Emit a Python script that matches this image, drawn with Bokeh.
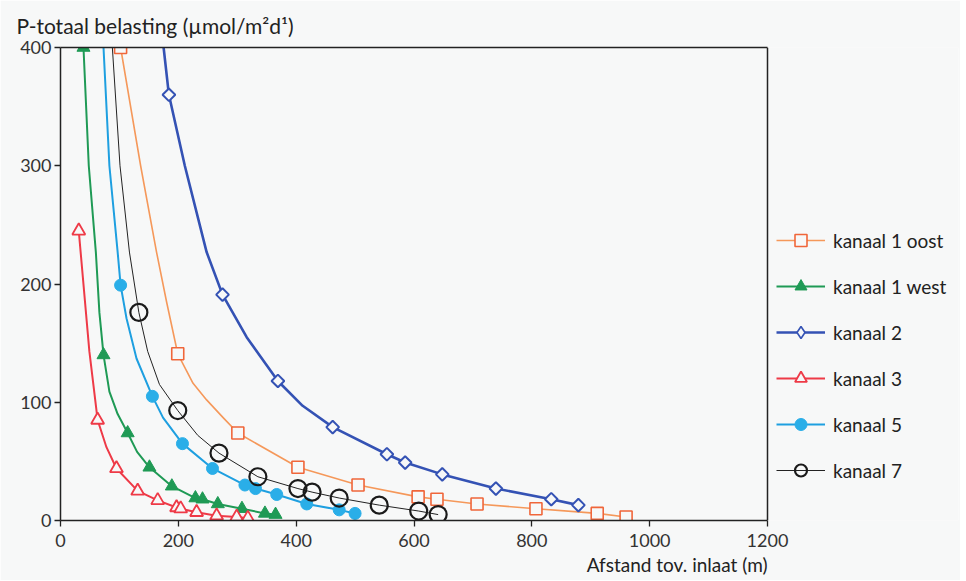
import math
from bokeh.plotting import figure
from bokeh.models import (Range1d, FixedTicker, Legend, LegendItem, LinearAxis, Span, Title)
from bokeh.embed import file_html
from bokeh.resources import INLINE

# ---------------- data ----------------
x_ticks = [0, 200, 400, 600, 800, 1000, 1200]
y_ticks = [0, 100, 200, 300, 400]
x_max = 1200
y_max = 400

series_names = ["kanaal 1 oost", "kanaal 1 west", "kanaal 2", "kanaal 3", "kanaal 5", "kanaal 7"]

# markers
k1o_x = [102, 199, 301, 403, 505, 607, 639, 707, 807, 911, 960]
k1o_y = [400, 141, 74, 45, 30, 20, 18, 14, 10, 6, 3]
k1w_x = [39, 73, 114, 151, 189, 229, 241, 267, 308, 347, 365]
k1w_y = [400, 140, 74, 45, 29, 19, 18, 14, 10, 6, 5]
k2_x = [184, 275, 369, 462, 554, 585, 648, 739, 833, 879]
k2_y = [360, 191, 118, 79, 56, 49, 39, 27, 18, 13]
k3_x = [31, 63, 95, 131, 165, 197, 204, 231, 265, 299, 318]
k3_y = [245, 85, 44, 25, 17, 11, 10, 7, 4, 3, 2]
k5_x = [102, 156, 207, 258, 313, 331, 367, 418, 473, 500]
k5_y = [199, 105, 65, 44, 30, 27, 22, 14, 9, 6]
k7_x = [133, 199, 269, 335, 403, 427, 473, 541, 608, 641]
k7_y = [176, 93, 57, 37, 27, 24, 19, 13, 8, 5]

# the drawn curves (markers plus extra points)
k1o_cx = [102, 136, 163, 180, 199, 225, 248, 276, 301, 403, 505, 607, 639, 707, 807, 911, 960]
k1o_cy = [400, 300, 227, 185, 141, 116, 102, 87, 74, 45, 30, 20, 18, 14, 10, 6, 3]
k1w_cx = [39, 48, 60, 66, 73, 83, 97, 114, 130, 151, 189, 229, 241, 267, 308, 347, 365]
k1w_cy = [400, 300, 227, 176, 140, 109, 90, 74, 58, 45, 29, 19, 18, 14, 10, 6, 5]
k2_cx = [175, 184, 211, 248, 275, 316, 369, 411, 462, 554, 585, 648, 739, 833, 879]
k2_cy = [400, 360, 300, 227, 191, 155, 118, 97, 79, 56, 49, 39, 27, 18, 13]
k3_cx = [31, 49, 63, 78, 95, 131, 165, 197, 204, 231, 265, 299, 318]
k3_cy = [245, 143, 85, 62, 44, 25, 17, 11, 10, 7, 4, 3, 2]
k5_cx = [73, 83, 97, 102, 112, 129, 156, 174, 207, 258, 313, 331, 367, 418, 473, 500]
k5_cy = [400, 300, 227, 199, 171, 137, 105, 87, 65, 44, 30, 27, 22, 14, 9, 6]
k7_cx = [88, 101, 117, 133, 148, 168, 199, 233, 269, 335, 403, 427, 473, 541, 608, 641]
k7_cy = [400, 300, 227, 176, 143, 115, 93, 72, 57, 37, 27, 24, 19, 13, 8, 5]

BG = "#f7f8f8"
FONT = "Lato"
INK = "#222222"

W, H = 960, 580
LEFT, RIGHT, TOP, BOTTOM = 60, 2, 43, 60
PLOT_W = 707                     # pixel width of the 0..1200 box
frame_w = W - LEFT - RIGHT
x_end = x_max * frame_w / PLOT_W  # frame extends to the right to host the legend

p = figure(width=W, height=H, output_backend="svg", toolbar_location=None,
           x_range=Range1d(0, x_end), y_range=Range1d(0, y_max),
           min_border_left=LEFT, min_border_right=RIGHT, min_border_top=TOP, min_border_bottom=BOTTOM,
           background_fill_color=BG, border_fill_color=BG)
p.grid.visible = False
p.outline_line_color = None

p.title.text = "P-totaal belasting (µmol/m²d¹)"
p.title.align = "left"
p.title.offset = -44
p.title.text_font = FONT
p.title.text_font_size = "21px"
p.title.text_font_style = "normal"
p.title.text_color = INK
p.title.standoff = 20

for ax in (p.xaxis[0], p.yaxis[0]):
    ax.axis_line_color = INK
    ax.axis_line_width = 1.5
    ax.major_tick_line_color = INK
    ax.major_tick_line_width = 1.3
    ax.major_tick_in = 0
    ax.major_tick_out = 6
    ax.minor_tick_line_color = None
    ax.major_label_text_font = FONT
    ax.major_label_text_font_size = "18px"
    ax.major_label_text_color = "#333333"
p.xaxis[0].ticker = FixedTicker(ticks=x_ticks)
p.yaxis[0].ticker = FixedTicker(ticks=y_ticks)
p.xaxis[0].bounds = (0, x_max)
p.xaxis[0].major_label_standoff = 7
p.yaxis[0].major_label_standoff = 3

# top border of the box
top_ax = LinearAxis(bounds=(0, x_max), ticker=FixedTicker(ticks=[]),
                    axis_line_color=INK, axis_line_width=1.5,
                    major_tick_line_color=None, minor_tick_line_color=None,
                    major_label_text_font_size="0px", major_label_standoff=0,
                    major_tick_out=0, major_tick_in=0)
p.add_layout(top_ax, "above")
# right border of the box
p.add_layout(Span(location=x_max, dimension="height", line_color=INK, line_width=1.5))

# x axis title, right-aligned with the box
xt = Title(text="Afstand tov. inlaat (m)", align="right", offset=W - RIGHT - LEFT - PLOT_W,
           text_font=FONT, text_font_size="19px", text_font_style="normal",
           text_color=INK, standoff=2)
p.add_layout(xt, "below")

specs = [
    # curve x, curve y, marker x, marker y, line color, line width, marker, size, mline, mfill, angle, mlw, legend marker
    (k1o_cx, k1o_cy, k1o_x, k1o_y, "#f5985a", 1.6, "square", 12, "#f0663a", BG, 0, 1.6, None),
    (k1w_cx, k1w_cy, k1w_x, k1w_y, "#1f9a55", 2.0, "triangle", 13, "#1f9a55", "#1f9a55", 0, 1.0, None),
    (k2_cx, k2_cy, k2_x, k2_y, "#3452b4", 2.6, "square", 9, "#3452b4", BG, math.pi / 4, 2.0, "diamond"),
    (k3_cx, k3_cy, k3_x, k3_y, "#ee3a47", 2.0, "triangle", 13, "#ee3a47", BG, 0, 1.8, None),
    (k5_cx, k5_cy, k5_x, k5_y, "#1e9fe0", 2.0, "circle", 12, "#2aaee8", "#2aaee8", 0, 1.0, None),
    (k7_cx, k7_cy, k7_x, k7_y, "#222222", 1.0, "circle", 17, "#1a1a1a", None, 0, 2.2, None),
]

items = []
for name, (cx, cy, mx, my, lc, lw, mk, sz, mlc, mfc, ang, mlw, lmk) in zip(series_names, specs):
    lr = p.line(cx, cy, line_color=lc, line_width=lw, line_join="round")
    sr = p.scatter(mx, my, marker=mk, size=sz, line_color=mlc, fill_color=mfc,
                   line_width=mlw, angle=ang)
    if lmk is not None:
        # legend-only glyph (the legend cannot draw a rotated square); its point is not shown
        gr = p.scatter(x=[float("nan")], y=[float("nan")], marker=lmk, size=sz,
                       line_color=mlc, fill_color=mfc, line_width=1.6)
        items.append(LegendItem(label=name, renderers=[lr, gr]))
    else:
        items.append(LegendItem(label=name, renderers=[lr, sr]))

legend = Legend(items=items, location=(PLOT_W + 9, 35), orientation="vertical",
                glyph_width=49, glyph_height=30, label_height=30, spacing=16,
                label_standoff=8, padding=0, margin=0,
                border_line_color=None, background_fill_alpha=0,
                label_text_font=FONT, label_text_font_size="19px",
                label_text_color=INK)
p.add_layout(legend)

open("out.html", "w").write(file_html(p, INLINE))
